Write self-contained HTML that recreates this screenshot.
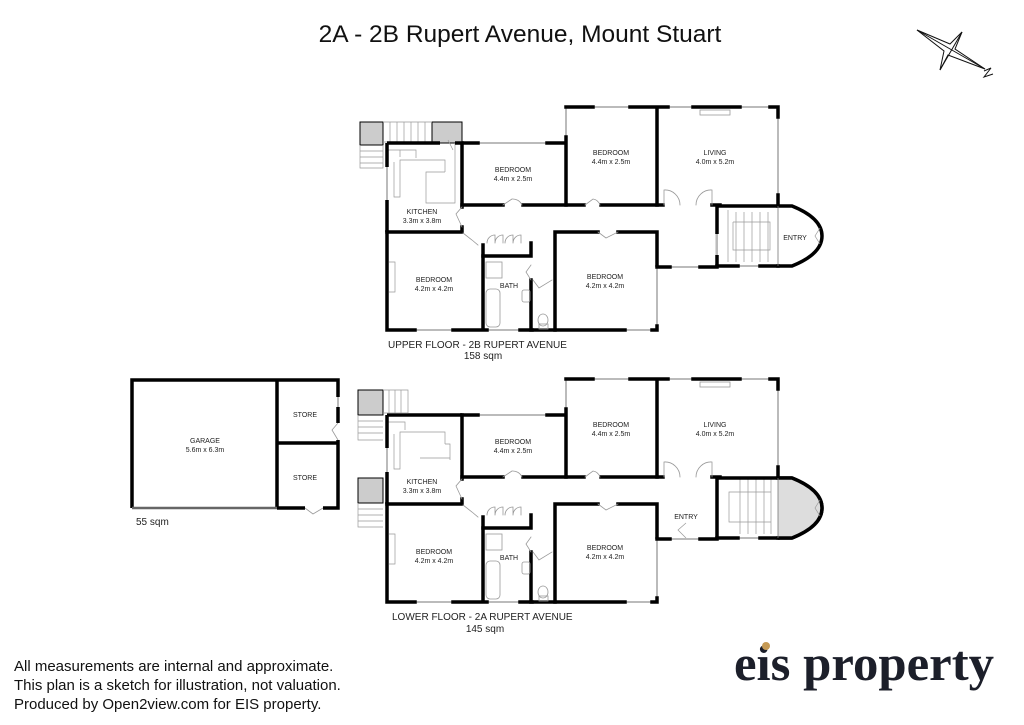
<!DOCTYPE html>
<html><head><meta charset="utf-8"><style>
html,body{margin:0;padding:0;background:#fff;}
svg{display:block;}
text{font-family:"Liberation Sans",sans-serif;fill:#222;}
.l{font-size:7px;text-anchor:middle;}
</style></head><body>
<svg width="1024" height="725" viewBox="0 0 1024 725" xmlns="http://www.w3.org/2000/svg">
<defs>
<g id="fl" fill="none" stroke-linecap="square">
  <g stroke="#bbb" stroke-width="2">
    <path d="M478,143H547 M593,107H630 M668,107H693 M740,107H770 M778,117V195 M566,108V137 M415,330H453 M625,330H652 M657,267V326 M670,267H700 M738,266H760 M487,330H520"/>
  </g>
  <g stroke="#000" stroke-width="3.5">
    <path d="M462,143H478 M547,143H566 M566,137V205 M566,107H593 M630,107H657 M657,107V205 M657,107H668 M693,107H740 M770,107H778V117 M778,195V205"/>
    <path d="M462,143V207 M462,227V232 M387,232H462"/>
    <path d="M462,205H503 M523,205H584 M601,205H663 M712,205H720"/>
    <path d="M387,232V330H415 M453,330H483 M483,245V330 M483,330H487 M520,330H532"/>
    <path d="M483,256H531V243 M531,280V330 M531,330H555"/>
    <path d="M555,280V232H598 M618,232H657V265 M555,280V330H625 M652,330H657V326"/>
    <path d="M657,267H670 M700,267H717"/>
    <path d="M717,266H738 M760,266H778"/>
    <path d="M778,206H792 Q822,218 822,236 Q822,254 792,266 H778"/>
  </g>
  <g stroke="#999" stroke-width="0.8" fill="none">
    <path d="M503,205 L512,199 M512,199 A10,10 0 0 1 522,205"/>
    <path d="M585,205 L593,199 A9,9 0 0 1 600,205"/>
    <path d="M664,205V190 A15,15 0 0 1 680,205 M712,205V190 A15,15 0 0 0 696,205"/>
    <path d="M462,207 L456,214 L462,227"/>
    <path d="M463,233 L472,240 L478,245"/>
    <path d="M598,232 L606,238 L618,232"/>
    <path d="M531,265 L526,272 L531,280"/>
    <path d="M533,280 L539,288 L552,280"/>
    <path d="M487,243 A8,8 0 0 1 495,235 V243 M495,243 A8,8 0 0 1 503,235 V243 M505,243 A8,8 0 0 1 513,235 V243 M513,243 A8,8 0 0 1 521,235V243"/>
    <rect x="486" y="262" width="16" height="16"/>
    <rect x="486" y="289" width="14" height="38" rx="4"/>
    <rect x="522" y="290" width="8" height="12" rx="2"/>
    <ellipse cx="543" cy="320" rx="5" ry="6"/>
    <rect x="539" y="324" width="9" height="5"/>
    <rect x="700" y="110" width="30" height="5"/>
  </g>
</g>
</defs>

<text x="520" y="42" font-size="24.5" text-anchor="middle" style="fill:#111">2A - 2B Rupert Avenue, Mount Stuart</text>

<g stroke="#111" stroke-width="1" fill="none">
  <polygon points="917,30 950,44 962,32 955,49 985,69 948,55 940,70 944,51"/>
  <path d="M917,30 L985,69 M962,32 L940,70"/>
  <path d="M984,71 L991,68 L984,77 L993,74"/>
</g>

<!-- UPPER FLOOR -->
<use href="#fl"/>
<g fill="none">
  <rect x="360" y="122" width="23" height="23" fill="#ccc" stroke="#000" stroke-width="1"/>
  <rect x="432" y="122" width="30" height="21" fill="#ccc" stroke="#000" stroke-width="1"/>
  <g stroke="#999" stroke-width="0.7" fill="none">
    <path d="M383,122H432 M383,142H432 M390,122V142 M397,122V142 M404,122V142 M411,122V142 M418,122V142 M425,122V142"/>
    <path d="M360,145V168H383V145 M360,151H383 M360,157H383 M360,163H383"/>
    <path d="M386,150H416V158 M400,150V157 M394,162V197H400V186 M400,186V160H445V172 M445,172 H426V183 M426,183V203H455V143 M448,140 L453,150"/>
    <path d="M716,210V262 M728,210V262 M736,212V262 M744,212V262 M752,212V262 M760,212V262 M768,212V262 M733,222H770V250H733V222"/>
    <path d="M820,228 L815,236 L820,244"/>
    <path d="M389,262H395V292H389"/>
  </g>
  <path d="M387,143V167 M387,200V232" stroke="#000" stroke-width="3.5"/>
  <path d="M387,167V200" stroke="#bbb" stroke-width="2"/>
  <path d="M387,143H440 M455,143H462" stroke="#000" stroke-width="3.5"/>
  <path d="M717,206V234 M717,255V266 M717,206H778" stroke="#000" stroke-width="3.5"/>
  <path d="M717,234V255" stroke="#bbb" stroke-width="2"/>
  <path d="M778,206V266" stroke="#777" stroke-width="0.8"/>
</g>
<text class="l" x="513" y="172">BEDROOM</text><text class="l" x="513" y="181">4.4m x 2.5m</text>
<text class="l" x="611" y="155">BEDROOM</text><text class="l" x="611" y="164">4.4m x 2.5m</text>
<text class="l" x="715" y="155">LIVING</text><text class="l" x="715" y="164">4.0m x 5.2m</text>
<text class="l" x="422" y="214">KITCHEN</text><text class="l" x="422" y="223">3.3m x 3.8m</text>
<text class="l" x="795" y="240">ENTRY</text>
<text class="l" x="434" y="282">BEDROOM</text><text class="l" x="434" y="291">4.2m x 4.2m</text>
<text class="l" x="509" y="288">BATH</text>
<text class="l" x="605" y="279">BEDROOM</text><text class="l" x="605" y="288">4.2m x 4.2m</text>
<text x="388" y="348" font-size="10">UPPER FLOOR - 2B RUPERT AVENUE</text>
<text x="483" y="359" font-size="10" text-anchor="middle">158 sqm</text>

<!-- LOWER FLOOR -->
<g transform="translate(0,272)" fill="none">
<use href="#fl"/>
<path d="M778,206H792 Q822,218 822,236 Q822,254 792,266 H778Z" fill="#ddd" stroke="none"/>
<path d="M778,206H792 Q822,218 822,236 Q822,254 792,266 H778" fill="none" stroke="#000" stroke-width="3.5"/>
<g stroke="#999" stroke-width="0.7" fill="none">
  <path d="M740,206V262 M748,206V262 M756,206V262 M764,206V262 M771,206V262 M729,220H771V250H729Z"/>
  <path d="M820,228 L815,236 L820,244"/>
  <path d="M686,251 L678,258 L686,266"/>
  <path d="M386,150H405V158 M394,162V197H400V186 M400,186V160H445V172 M445,172H450V188 M420,186H450"/>
  <path d="M389,262H395V292H389"/>
</g>
<path d="M387,143V176 M387,200V232 M387,143H462 M717,206V266 M717,206H778" stroke="#000" stroke-width="3.5" fill="none"/>
<path d="M387,176V200" stroke="#bbb" stroke-width="2"/>
<path d="M778,206V266" stroke="#777" stroke-width="0.8"/>
</g>
<rect x="358" y="390" width="25" height="25" fill="#ccc" stroke="#000" stroke-width="1"/>
<rect x="358" y="478" width="25" height="25" fill="#ccc" stroke="#000" stroke-width="1"/>
<g stroke="#999" stroke-width="0.7" fill="none">
  <path d="M383,390H408V413H383 M389,390V413 M395,390V413 M401,390V413"/>
  <path d="M358,415V440H383 M358,421H383 M358,427H383 M358,433H383"/>
  <path d="M358,503V527H383 M358,509H383 M358,515H383 M358,521H383"/>
</g>
<text class="l" x="513" y="444">BEDROOM</text><text class="l" x="513" y="453">4.4m x 2.5m</text>
<text class="l" x="611" y="427">BEDROOM</text><text class="l" x="611" y="436">4.4m x 2.5m</text>
<text class="l" x="715" y="427">LIVING</text><text class="l" x="715" y="436">4.0m x 5.2m</text>
<text class="l" x="422" y="484">KITCHEN</text><text class="l" x="422" y="493">3.3m x 3.8m</text>
<text class="l" x="686" y="519">ENTRY</text>
<text class="l" x="434" y="554">BEDROOM</text><text class="l" x="434" y="563">4.2m x 4.2m</text>
<text class="l" x="509" y="560">BATH</text>
<text class="l" x="605" y="550">BEDROOM</text><text class="l" x="605" y="559">4.2m x 4.2m</text>
<text x="392" y="620" font-size="10">LOWER FLOOR - 2A RUPERT AVENUE</text>
<text x="485" y="632" font-size="10" text-anchor="middle">145 sqm</text>

<!-- garage -->
<g fill="none" stroke="#000" stroke-width="3.5">
  <path d="M132,508V380H338V397 M338,407V423 M338,440V508H323 M305,508H277 M277,380V508 M277,443H338"/>
</g>
<path d="M132,508H277" stroke="#666" stroke-width="2.5"/>
<path d="M338,397V407" stroke="#bbb" stroke-width="2"/>
<path d="M338,423 L332,430 L338,440 M305,508 L313,514 L323,508" stroke="#999" stroke-width="0.8" fill="none"/>
<text class="l" x="205" y="443">GARAGE</text><text class="l" x="205" y="452">5.6m x 6.3m</text>
<text class="l" x="305" y="417">STORE</text>
<text class="l" x="305" y="480">STORE</text>
<text x="136" y="525" font-size="10">55 sqm</text>

<text x="14" y="671" font-size="15" style="fill:#111">All measurements are internal and approximate.</text>
<text x="14" y="690" font-size="15" style="fill:#111">This plan is a sketch for illustration, not valuation.</text>
<text x="14" y="709" font-size="15" style="fill:#111">Produced by Open2view.com for EIS property.</text>

<text x="734" y="680" font-size="50" font-weight="bold" textLength="260" lengthAdjust="spacingAndGlyphs" style="font-family:'Liberation Serif',serif;fill:#1c1f2a">eis property</text>
<circle cx="766" cy="646" r="4" fill="#c59a55"/>
</svg>
</body></html>
